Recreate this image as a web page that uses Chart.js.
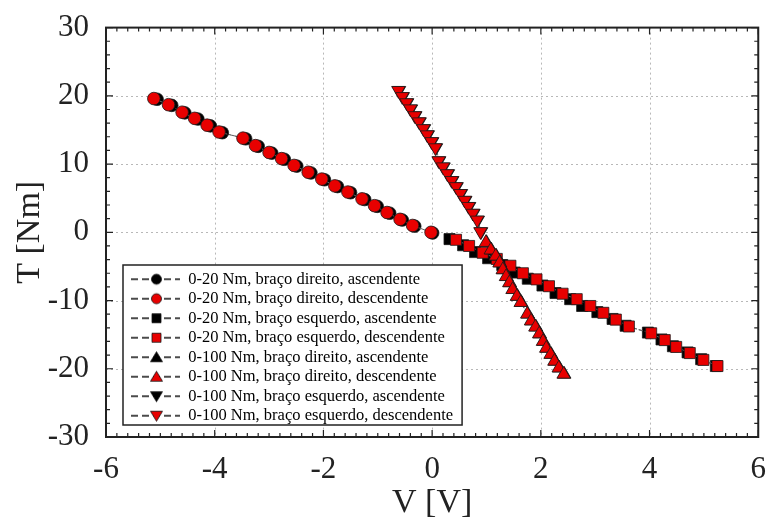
<!DOCTYPE html>
<html>
<head>
<meta charset="utf-8">
<script src="https://cdn.jsdelivr.net/npm/chart.js@4.4.0/dist/chart.umd.min.js"></script>
<style>
    html, body { margin: 0; padding: 0; background: #fff; }
</style>
</head>
<body>
<canvas id="myChart" width="772" height="523"></canvas>
<script>
// 0-20 Nm, braço direito (circles)
const dirAsc20V = [-5.06, -4.79, -4.55, -4.31, -4.08, -3.86, -3.43, -3.20, -2.95, -2.72, -2.49, -2.23, -1.98, -1.74, -1.50, -1.24, -1.01, -0.78, -0.55, -0.32, 0.01];
const dirAsc20T = [19.5, 18.6, 17.5, 16.6, 15.6, 14.6, 13.7, 12.6, 11.6, 10.7, 9.7, 8.7, 7.7, 6.7, 5.8, 4.8, 3.8, 2.8, 1.8, 0.9, -0.1];
const dirDesc20V = [-5.12, -4.85, -4.60, -4.37, -4.14, -3.92, -3.48, -3.25, -3.00, -2.77, -2.54, -2.28, -2.03, -1.79, -1.55, -1.29, -1.06, -0.83, -0.59, -0.36, -0.02];
const dirDesc20T = [19.6, 18.7, 17.6, 16.7, 15.7, 14.7, 13.8, 12.7, 11.7, 10.8, 9.8, 8.8, 7.8, 6.8, 5.9, 4.9, 3.9, 2.9, 1.9, 1.0, 0.0];

// 0-20 Nm, braço esquerdo (squares)
const esqAsc20V = [0.32, 0.57, 0.79, 1.03, 1.29, 1.52, 1.76, 2.03, 2.27, 2.54, 2.76, 3.04, 3.32, 3.56, 3.97, 4.22, 4.43, 4.70, 4.95, 5.22];
const esqAsc20T = [-1.0, -1.9, -2.9, -3.8, -4.8, -5.9, -6.8, -7.8, -8.9, -9.8, -10.8, -11.7, -12.7, -13.7, -14.7, -15.7, -16.7, -17.6, -18.6, -19.6];
const esqDesc20V = [0.44, 0.68, 0.93, 1.19, 1.44, 1.67, 1.92, 2.15, 2.40, 2.66, 2.91, 3.15, 3.38, 3.62, 4.03, 4.28, 4.49, 4.74, 4.99, 5.25];
const esqDesc20T = [-1.1, -2.0, -3.0, -3.9, -4.9, -6.0, -6.9, -7.9, -9.0, -9.8, -10.8, -11.8, -12.8, -13.8, -14.8, -15.8, -16.8, -17.7, -18.7, -19.6];

// 0-100 Nm, braço direito (up triangles)
const dirAsc100V = [1.00, 1.09, 1.18, 1.25, 1.31, 1.37, 1.43, 1.49, 1.57, 1.64, 1.76, 1.83, 1.91, 1.98, 2.05, 2.11, 2.19, 2.26, 2.34, 2.43];
const dirAsc100T = [-1.5, -2.6, -3.5, -4.5, -5.5, -6.5, -7.4, -8.4, -9.4, -10.3, -12.0, -13.0, -13.9, -14.9, -16.0, -17.0, -17.9, -18.9, -19.9, -20.8];
const dirDesc100V = [0.99, 1.08, 1.17, 1.24, 1.30, 1.36, 1.42, 1.48, 1.56, 1.63, 1.75, 1.82, 1.90, 1.97, 2.04, 2.10, 2.18, 2.25, 2.33, 2.42];
const dirDesc100T = [-1.5, -2.6, -3.5, -4.5, -5.5, -6.5, -7.4, -8.4, -9.4, -10.3, -12.0, -13.0, -13.9, -14.9, -16.0, -17.0, -17.9, -18.9, -19.9, -20.8];

// 0-100 Nm, braço esquerdo (down triangles)
const esqAsc100V = [-0.61, -0.54, -0.46, -0.39, -0.31, -0.23, -0.15, -0.08, 0.00, 0.07, 0.13, 0.21, 0.29, 0.37, 0.45, 0.53, 0.61, 0.68, 0.76, 0.84, 0.90];
const esqAsc100T = [20.8, 19.9, 19.0, 18.1, 17.1, 16.2, 15.2, 14.3, 13.3, 12.4, 10.5, 9.6, 8.6, 7.6, 6.7, 5.7, 4.7, 3.8, 2.8, 1.8, 0.1];
const esqDesc100V = [-0.62, -0.55, -0.47, -0.40, -0.32, -0.24, -0.16, -0.09, -0.01, 0.06, 0.12, 0.20, 0.28, 0.36, 0.44, 0.52, 0.60, 0.67, 0.75, 0.83, 0.89];
const esqDesc100T = [20.8, 19.9, 19.0, 18.1, 17.1, 16.2, 15.2, 14.3, 13.3, 12.4, 10.5, 9.6, 8.6, 7.6, 6.7, 5.7, 4.7, 3.8, 2.8, 1.8, 0.1];

const seriesLabels = [
    '0-20 Nm, braço direito, ascendente',
    '0-20 Nm, braço direito, descendente',
    '0-20 Nm, braço esquerdo, ascendente',
    '0-20 Nm, braço esquerdo, descendente',
    '0-100 Nm, braço direito, ascendente',
    '0-100 Nm, braço direito, descendente',
    '0-100 Nm, braço esquerdo, ascendente',
    '0-100 Nm, braço esquerdo, descendente'
];

const xTicks = [-6, -4, -2, 0, 2, 4, 6];
const yTicks = [-30, -20, -10, 0, 10, 20, 30];
const xMinorStep = 0.2;
const yMinorStep = 2;

const RED = 'rgb(232, 0, 0)';
const BLACK = '#000';
const SERIF = '"Liberation Serif", "Times New Roman", serif';

Chart.defaults.font.family = SERIF;
Chart.defaults.color = '#222';

function toPoints(vs, ts) {
    return vs.map((v, i) => ({ x: v, y: ts[i] }));
}

// small legend sample: "- -marker- -"
function legendSample(shape, fill) {
    const c = document.createElement('canvas');
    c.width = 71;
    c.height = 16;
    const g = c.getContext('2d');
    g.strokeStyle = '#111';
    g.lineWidth = 1.3;
    g.setLineDash([7, 4]);
    g.beginPath();
    g.moveTo(22, 8);
    g.lineTo(71, 8);
    g.stroke();
    g.setLineDash([]);
    g.fillStyle = fill;
    g.strokeStyle = '#111';
    g.lineWidth = 0.8;
    const cx = 47.5, cy = 8;
    g.beginPath();
    if (shape === 'circle') {
        g.arc(cx, cy, 5, 0, Math.PI * 2);
    } else if (shape === 'rect') {
        g.rect(cx - 4.5, cy - 4.5, 9, 9);
    } else if (shape === 'up') {
        g.moveTo(cx, cy - 5.5); g.lineTo(cx + 6, cy + 4.5); g.lineTo(cx - 6, cy + 4.5); g.closePath();
    } else {
        g.moveTo(cx, cy + 5.5); g.lineTo(cx + 6, cy - 4.5); g.lineTo(cx - 6, cy - 4.5); g.closePath();
    }
    g.fill();
    g.stroke();
    return c;
}

const seriesStyle = [
    { shape: 'circle', fill: BLACK },
    { shape: 'circle', fill: RED },
    { shape: 'rect', fill: BLACK },
    { shape: 'rect', fill: RED },
    { shape: 'up', fill: BLACK },
    { shape: 'up', fill: RED },
    { shape: 'down', fill: BLACK },
    { shape: 'down', fill: RED }
];

const seriesData = [
    toPoints(dirAsc20V, dirAsc20T),
    toPoints(dirDesc20V, dirDesc20T),
    toPoints(esqAsc20V, esqAsc20T),
    toPoints(esqDesc20V, esqDesc20T),
    toPoints(dirAsc100V, dirAsc100T),
    toPoints(dirDesc100V, dirDesc100T),
    toPoints(esqAsc100V, esqAsc100T),
    toPoints(esqDesc100V, esqDesc100T)
];

function makeDataset(i) {
    const st = seriesStyle[i];
    let pointStyle = 'circle', rotation = 0, radius = 6.3;
    if (st.shape === 'rect') { pointStyle = 'rect'; radius = 7.8; }
    if (st.shape === 'up') { pointStyle = 'triangle'; radius = 7.8; }
    if (st.shape === 'down') { pointStyle = 'triangle'; rotation = 180; radius = 7.8; }
    return {
        label: seriesLabels[i],
        data: seriesData[i],
        showLine: true,
        borderColor: '#666',
        borderWidth: 1,
        borderDash: [4, 2],
        pointStyle: pointStyle,
        rotation: rotation,
        pointRadius: radius,
        pointHoverRadius: radius,
        pointBackgroundColor: st.fill,
        pointBorderColor: '#1a1a1a',
        pointBorderWidth: 0.8,
        order: seriesLabels.length - i // later series drawn on top
    };
}

// dotted grid, white legend box, then frame with inward ticks
const framePlugin = {
    id: 'framePlugin',
    afterLayout(chart) {
        const lg = chart.legend;
        const a = chart.chartArea;
        lg.left = a.left;
        lg.right = lg.left + lg.width;
        lg.top = a.bottom - 169;
        lg.bottom = lg.top + 160;
    },
    beforeDraw(chart) {
        const { ctx, chartArea: a, scales: { x, y } } = chart;
        ctx.save();
        ctx.fillStyle = '#fff';
        ctx.fillRect(0, 0, chart.width, chart.height);

        ctx.strokeStyle = '#b8b8b8';
        ctx.lineWidth = 1;
        ctx.setLineDash([2, 3]);
        ctx.beginPath();
        xTicks.forEach(v => {
            if (v <= x.min || v >= x.max) return;
            const px = Math.round(x.getPixelForValue(v)) + 0.5;
            ctx.moveTo(px, a.top);
            ctx.lineTo(px, a.bottom);
        });
        yTicks.forEach(v => {
            if (v <= y.min || v >= y.max) return;
            const py = Math.round(y.getPixelForValue(v)) + 0.5;
            ctx.moveTo(a.left, py);
            ctx.lineTo(a.right, py);
        });
        ctx.stroke();
        ctx.setLineDash([]);

        // legend frame
        const hb = chart.legend.legendHitBoxes;
        if (hb && hb.length) {
            const last = hb[hb.length - 1];
            const l = hb[0].left + 14;
            const t = hb[0].top - 6;
            const r = Math.max(...hb.map(b => b.left + b.width)) + 9;
            const b = last.top + last.height + 1;
            ctx.fillStyle = '#fff';
            ctx.fillRect(l, t, r - l, b - t);
            ctx.strokeStyle = '#222';
            ctx.lineWidth = 1.5;
            ctx.strokeRect(l, t, r - l, b - t);
        }
        ctx.restore();
    },
    afterDraw(chart) {
        const { ctx, chartArea: a, scales: { x, y } } = chart;
        ctx.save();
        ctx.strokeStyle = '#222';
        ctx.lineWidth = 1.2;
        ctx.beginPath();
        const nx = Math.round((x.max - x.min) / xMinorStep);
        for (let i = 0; i <= nx; i++) {
            const v = x.min + i * xMinorStep;
            const px = x.getPixelForValue(v);
            const major = xTicks.some(t => Math.abs(t - v) < 1e-6);
            const len = major ? 7 : 4;
            ctx.moveTo(px, a.bottom); ctx.lineTo(px, a.bottom - len);
            ctx.moveTo(px, a.top); ctx.lineTo(px, a.top + len);
        }
        const ny = Math.round((y.max - y.min) / yMinorStep);
        for (let i = 0; i <= ny; i++) {
            const v = y.min + i * yMinorStep;
            const py = y.getPixelForValue(v);
            const major = yTicks.some(t => Math.abs(t - v) < 1e-6);
            const len = major ? 7 : 4;
            ctx.moveTo(a.left, py); ctx.lineTo(a.left + len, py);
            ctx.moveTo(a.right, py); ctx.lineTo(a.right - len, py);
        }
        ctx.stroke();

        ctx.lineWidth = 2;
        ctx.strokeRect(a.left, a.top, a.right - a.left, a.bottom - a.top);
        ctx.restore();
    }
};

const ctx = document.getElementById('myChart').getContext('2d');
const chart = new Chart(ctx, {
    type: 'scatter',
    data: { datasets: seriesLabels.map((_, i) => makeDataset(i)) },
    options: {
        responsive: false,
        devicePixelRatio: 1,
        animation: false,
        layout: { padding: { top: 23, right: 8, left: 0, bottom: 0 } },
        scales: {
            x: {
                type: 'linear',
                min: -6,
                max: 6,
                afterBuildTicks: (s) => { s.ticks = xTicks.map(v => ({ value: v })); },
                afterFit: (s) => { s.height = 86; },
                grid: { display: false },
                border: { display: false },
                ticks: { font: { size: 31 }, color: '#222', padding: 6, maxRotation: 0 },
                title: { display: true, text: 'V [V]', font: { size: 34 }, color: '#222', padding: { top: 0, bottom: 0 } }
            },
            y: {
                type: 'linear',
                min: -30,
                max: 30,
                afterBuildTicks: (s) => { s.ticks = yTicks.map(v => ({ value: v })); },
                afterFit: (s) => { s.width = 106; },
                grid: { display: false },
                border: { display: false },
                ticks: { font: { size: 31 }, color: '#222', padding: 9 },
                title: { display: true, text: 'T [Nm]', font: { size: 34 }, color: '#222', padding: { top: 10, bottom: 0 } }
            }
        },
        plugins: {
            tooltip: { enabled: false },
            legend: {
                position: 'chartArea',
                align: 'start',
                labels: {
                    usePointStyle: true,
                    pointStyleWidth: 71,
                    padding: 3,
                    color: '#111',
                    font: { size: 16.5 },
                    generateLabels: (ch) => ch.data.datasets.map((ds, i) => ({
                        text: ds.label,
                        pointStyle: legendSample(seriesStyle[i].shape, seriesStyle[i].fill),
                        fillStyle: seriesStyle[i].fill,
                        strokeStyle: '#111',
                        lineWidth: 0,
                        hidden: false,
                        datasetIndex: i
                    }))
                }
            }
        }
    },
    plugins: [framePlugin]
});
</script>
</body>
</html>
